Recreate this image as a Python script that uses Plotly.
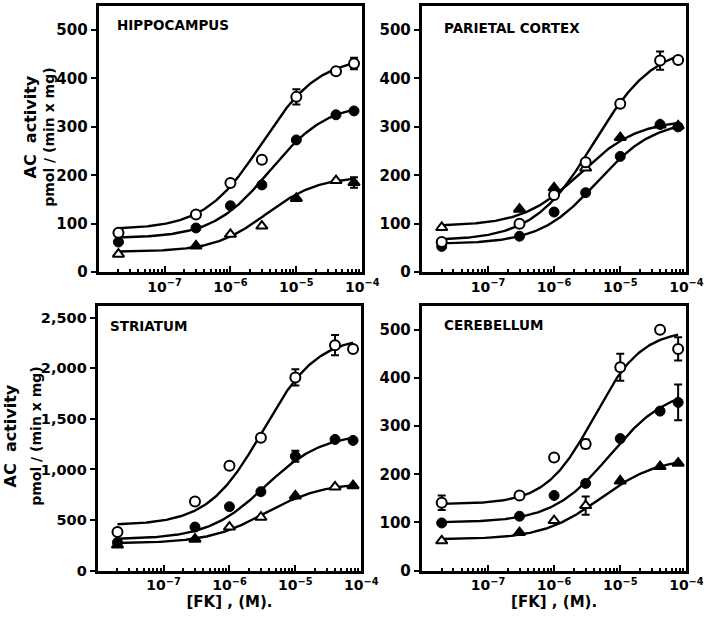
import numpy as np
import plotly.graph_objects as go

# ---------------- data ----------------
conc = [2e-8, 3e-7, 1e-6, 3e-6, 1e-5, 4e-5, 7.5e-5]   # [FK] (M)

# Hippocampus
hip_open = [81, 119, 184, 232, 362, 415, 431]
hip_filled = [62, 91, 137, 180, 273, 325, 333]
hip_tri = [37, 54, 78, 95, 152, 189, 185]
hip_open_err = [0, 0, 0, 0, 16, 0, 12]
hip_filled_err = [0, 0, 0, 0, 0, 0, 0]
hip_tri_err = [0, 0, 0, 0, 0, 0, 11]

# Parietal cortex
par_open = [62, 100, 159, 227, 348, 437, 438]
par_filled = [53, 74, 124, 164, 239, 305, 300]
par_tri = [92, 130, 174, 215, 278, 304, 302]
par_open_err = [0, 0, 0, 0, 0, 19, 0]
par_filled_err = [0, 0, 0, 0, 0, 0, 0]
par_tri_err = [0, 0, 0, 0, 0, 0, 0]

# Striatum
str_open = [383, 684, 1038, 1313, 1910, 2228, 2190]
str_filled = [279, 431, 632, 781, 1131, 1297, 1287]
str_tri = [253, 311, 431, 528, 739, 827, 840]
str_open_err = [0, 0, 0, 0, 80, 100, 0]
str_filled_err = [0, 0, 0, 0, 55, 0, 0]
str_tri_err = [0, 0, 0, 0, 0, 0, 0]

# Cerebellum
cer_open = [141, 156, 235, 263, 422, 500, 460]
cer_filled = [99, 113, 156, 181, 274, 331, 349]
cer_tri = [62, 79, 104, 135, 186, 216, 223]
cer_open_err = [15, 0, 0, 9, 28, 0, 24]
cer_filled_err = [0, 0, 0, 0, 0, 0, 37]
cer_tri_err = [0, 0, 0, 19, 0, 0, 0]

# fitted sigmoid curves: (bottom, top, EC50 (M), Hill slope)
hip_fits = [(88, 445, 3.0e-6, 1.0), (70, 350, 4.0e-6, 1.0), (42, 198, 3.5e-6, 1.1)]
par_fits = [(65, 470, 4.0e-6, 0.95), (58, 315, 4.5e-6, 1.0), (95, 315, 2.5e-6, 1.0)]
str_fits = [(450, 2320, 3.2e-6, 1.05), (310, 1360, 3.5e-6, 1.0), (270, 870, 3.5e-6, 1.0)]
cer_fits = [(138, 500, 4.0e-6, 1.2), (100, 380, 7.0e-6, 1.0), (65, 235, 5.0e-6, 1.0)]

titles = ["HIPPOCAMPUS", "PARIETAL CORTEX", "STRIATUM", "CEREBELLUM"]
x_tickvals = [1e-7, 1e-6, 1e-5, 1e-4]
x_ticktext = ["10<sup>\u22127</sup>", "10<sup>\u22126</sup>", "10<sup>\u22125</sup>", "10<sup>\u22124</sup>"]
y_ticks_small = [0, 100, 200, 300, 400, 500]
y_ticks_str = [0, 500, 1000, 1500, 2000, 2500]
y_ticktext_str = ["0", "500", "1,000", "1,500", "2,000", "2,500"]

# ---------------- styles ----------------
# triangle fill pattern as rendered in the original ('f' filled, 'o' open)
tri_style = {0: "ofoofof", 1: "offofff", 2: "ffoofof", 3: "ofoofff"}
W, H = 720, 626
def px(x):
    return x / W
def py(y):
    return 1 - y / H

# panel boxes in pixels: (left, right, top, bottom)
boxes = [(101, 371, 6, 276), (432, 703, 6, 276), (100, 370, 310, 579), (432, 703, 310, 579)]
yranges = [[0, 550], [0, 550], [0, 2620], [0, 550]]

panels = [
    (hip_open, hip_filled, hip_tri, hip_open_err, hip_filled_err, hip_tri_err, hip_fits),
    (par_open, par_filled, par_tri, par_open_err, par_filled_err, par_tri_err, par_fits),
    (str_open, str_filled, str_tri, str_open_err, str_filled_err, str_tri_err, str_fits),
    (cer_open, cer_filled, cer_tri, cer_open_err, cer_filled_err, cer_tri_err, cer_fits),
]

FONT = "DejaVu Sans"
fig = go.Figure()
layout = {}

for i, (o, f, t, oe, fe, te, fits) in enumerate(panels):
    n = "" if i == 0 else str(i + 1)
    xa, ya = "x" + n, "y" + n
    l, r, tp, bt = boxes[i]
    # fitted curves
    xs = np.logspace(np.log10(conc[0]), np.log10(conc[-1]), 200)
    for (b, tpv, ec, h) in fits:
        ys = b + (tpv - b) / (1 + (ec / xs) ** h)
        fig.add_trace(go.Scatter(x=xs, y=ys, mode="lines", xaxis=xa, yaxis=ya,
                                 line=dict(color="black", width=2.4), hoverinfo="skip",
                                 showlegend=False))
    # error bars
    for vals, errs in ((o, oe), (f, fe), (t, te)):
        ix = [k for k, e in enumerate(errs) if e > 0]
        if ix:
            fig.add_trace(go.Scatter(
                x=[conc[k] for k in ix], y=[vals[k] for k in ix], mode="markers",
                xaxis=xa, yaxis=ya, marker=dict(size=1, color="rgba(0,0,0,0)"),
                error_y=dict(type="data", array=[errs[k] for k in ix], visible=True,
                             color="black", thickness=2, width=4),
                showlegend=False, hoverinfo="skip"))
    # triangles
    sty = tri_style[i]
    fig.add_trace(go.Scatter(
        x=conc, y=t, mode="markers", xaxis=xa, yaxis=ya, showlegend=False,
        marker=dict(symbol="triangle-up", size=10,
                    color=["black" if s == "f" else "white" for s in sty],
                    line=dict(color="black", width=2))))
    # filled circles
    fig.add_trace(go.Scatter(
        x=conc, y=f, mode="markers", xaxis=xa, yaxis=ya, showlegend=False,
        marker=dict(symbol="circle", size=10, color="black",
                    line=dict(color="black", width=1))))
    # open circles
    fig.add_trace(go.Scatter(
        x=conc, y=o, mode="markers", xaxis=xa, yaxis=ya, showlegend=False,
        marker=dict(symbol="circle", size=10, color="white",
                    line=dict(color="black", width=2))))

    xaxis = dict(
        type="log", range=[-8, -4], domain=[px(l), px(r)], anchor=ya,
        showline=True, linecolor="black", linewidth=3, mirror=True,
        showgrid=False, zeroline=False,
        ticks="inside", ticklen=6, tickwidth=2, tickcolor="black",
        tickvals=x_tickvals, ticktext=x_ticktext,
        tickfont=dict(family=FONT, size=14, color="black", weight="bold"),
        minor=dict(ticks="inside", ticklen=3, tickwidth=1.5, tickcolor="black",
                   dtick="D1", showgrid=False),
    )
    if i >= 2:
        xaxis["title"] = dict(text="[FK] , (M).", standoff=4,
                              font=dict(family=FONT, size=15, color="black", weight="bold"))
    if i == 2:
        yt, ytt, yfs = y_ticks_str, y_ticktext_str, 14.5
    else:
        yt, ytt, yfs = y_ticks_small, [str(v) for v in y_ticks_small], 15
    yaxis = dict(
        range=yranges[i], domain=[py(bt), py(tp)], anchor=xa,
        showline=True, linecolor="black", linewidth=3, mirror=True,
        showgrid=False, zeroline=False,
        ticks="outside", ticklen=5, tickwidth=2, tickcolor="black",
        tickvals=yt, ticktext=ytt,
        tickfont=dict(family=FONT, size=yfs, color="black", weight="bold"),
    )
    layout["xaxis" + n] = xaxis
    layout["yaxis" + n] = yaxis

annotations = []
title_pos = [(118, 25), (453, 28), (111, 331), (453, 330)]
for (tx, ty), name in zip(title_pos, titles):
    annotations.append(dict(text=name, x=px(tx), y=py(ty), xref="paper", yref="paper",
                            xanchor="left", yanchor="middle", showarrow=False,
                            font=dict(family=FONT, size=13.5, color="black", weight="bold")))
# y-axis titles: (x, y centre of "AC activity"), (x, y centre of "pmol" line)
ytitle_pos = [((31, 129), (50, 139)), ((11, 442), (36, 443))]
for (ax_x, ax_y), (pm_x, pm_y) in ytitle_pos:
    annotations.append(dict(text="AC  activity", x=px(ax_x), y=py(ax_y), xref="paper", yref="paper",
                            textangle=-90, showarrow=False, xanchor="center", yanchor="middle",
                            font=dict(family=FONT, size=16, color="black", weight="bold")))
    annotations.append(dict(text="pmol / (min x mg)", x=px(pm_x), y=py(pm_y), xref="paper", yref="paper",
                            textangle=-90, showarrow=False, xanchor="center", yanchor="middle",
                            font=dict(family=FONT, size=14, color="black", weight="bold")))

fig.update_layout(
    width=W, height=H, margin=dict(l=0, r=0, t=0, b=0),
    paper_bgcolor="white", plot_bgcolor="white",
    annotations=annotations, **layout)

fig.write_html("out.html", config={"displayModeBar": False},
               post_script="document.body.style.margin='0';document.body.style.overflow='hidden';")
